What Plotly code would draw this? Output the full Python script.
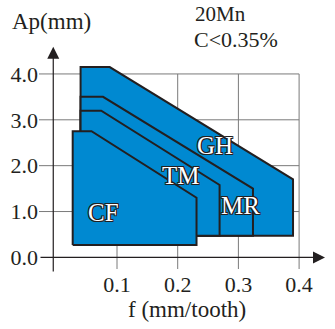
import plotly.graph_objects as go

# ---- data ----
regions = ["GH", "MR", "TM", "CF"]
region_x = {
    "GH": [0.040, 0.040, 0.088, 0.390, 0.390],
    "MR": [0.040, 0.040, 0.077, 0.324, 0.324],
    "TM": [0.040, 0.040, 0.074, 0.269, 0.269],
    "CF": [0.027, 0.027, 0.058, 0.231, 0.231],
}
region_y = {
    "GH": [0.47, 4.15, 4.15, 1.70, 0.47],
    "MR": [0.47, 3.50, 3.50, 1.50, 0.47],
    "TM": [0.47, 3.20, 3.20, 1.58, 0.47],
    "CF": [0.27, 2.75, 2.75, 1.30, 0.27],
}
label_pos = {
    "GH": (0.261, 2.44),
    "MR": (0.303, 1.14),
    "TM": (0.205, 1.78),
    "CF": (0.077, 0.97),
}
x_ticks = [0.1, 0.2, 0.3, 0.4]
x_ticktext = ["0.1", "0.2", "0.3", "0.4"]
y_ticks = [0, 1, 2, 3, 4]
y_ticktext = ["0.0", "1.0", "2.0", "3.0", "4.0"]

FILL = "rgb(0,137,209)"
EDGE = "#231f20"
GRID = "#7a7a7a"
FONT = "Liberation Serif"
X_RANGE = [-0.0285, 0.4509]
Y_RANGE = [-0.2529, 4.74]

W, H = 335, 329
ML, MR_, MT, MB = 39, 5, 40, 60


def paper_x(px):
    return (px - ML) / (W - ML - MR_)


def paper_y(py):
    return (H - MB - py) / (H - MT - MB)


fig = go.Figure()

# grid lines (data coordinates)
for yv in y_ticks[1:]:
    fig.add_shape(type="line", x0=X_RANGE[0], x1=0.4, y0=yv, y1=yv,
                  line=dict(color=GRID, width=1), layer="below")
for xv in x_ticks:
    fig.add_shape(type="line", x0=xv, x1=xv, y0=Y_RANGE[0], y1=4.0,
                  line=dict(color=GRID, width=1), layer="below")

for r in regions:
    fig.add_trace(go.Scatter(
        x=region_x[r] + [region_x[r][0]], y=region_y[r] + [region_y[r][0]],
        mode="lines", fill="toself", fillcolor=FILL,
        line=dict(color=EDGE, width=2), hoverinfo="skip", showlegend=False))

outline = ", ".join(f"{dx}px {dy}px 0 {EDGE}" for dx, dy in
                    [(1, 0), (-1, 0), (0, 1), (0, -1), (1, 1), (-1, -1), (1, -1), (-1, 1)])
for r in regions:
    x, y = label_pos[r]
    fig.add_annotation(x=x, y=y, text=r, showarrow=False,
                       font=dict(family=FONT, size=25, color="white", shadow=outline))

# axes lines with arrows
fig.add_annotation(x=-0.005, y=4.593, ax=-0.005, ay=-0.34, axref="x", ayref="y",
                   xref="x", yref="y", text="", showarrow=True, arrowhead=2,
                   arrowsize=2, arrowwidth=1.2, arrowcolor=EDGE, standoff=0)
fig.add_annotation(x=0.4427, y=0, ax=X_RANGE[0], ay=0, axref="x", ayref="y",
                   xref="x", yref="y", text="", showarrow=True, arrowhead=2,
                   arrowsize=2, arrowwidth=1.2, arrowcolor=EDGE, standoff=0)

# texts (paper coordinates, outside the plot area)
txt_font = dict(family=FONT, size=23, color="#231f20")
fig.add_annotation(xref="paper", yref="paper", x=paper_x(10), y=paper_y(21.5),
                   text="Ap(mm)", showarrow=False, xanchor="left", yanchor="middle",
                   font=txt_font)
fig.add_annotation(xref="paper", yref="paper", x=paper_x(193), y=paper_y(0),
                   text="20Mn", showarrow=False, xanchor="left", yanchor="top",
                   font=dict(family=FONT, size=21, color="#231f20"))
fig.add_annotation(xref="paper", yref="paper", x=paper_x(192), y=paper_y(39),
                   text="C&lt;0.35%", showarrow=False, xanchor="left", yanchor="middle",
                   font=dict(family=FONT, size=22, color="#231f20"))
fig.add_annotation(xref="paper", yref="paper", x=paper_x(186.5), y=paper_y(309),
                   text="f (mm/tooth)", showarrow=False, xanchor="center", yanchor="middle",
                   font=dict(family=FONT, size=23, color="#231f20"))

fig.update_xaxes(range=X_RANGE, tickvals=x_ticks, ticktext=x_ticktext,
                 showgrid=False, zeroline=False, showline=False, ticks="",
                 automargin=False,
                 tickfont=dict(family=FONT, size=22, color="#231f20"), fixedrange=True)
fig.update_yaxes(range=Y_RANGE, tickvals=y_ticks, ticktext=y_ticktext,
                 showgrid=False, zeroline=False, showline=False, ticks="",
                 automargin=False,
                 tickfont=dict(family=FONT, size=22, color="#231f20"), fixedrange=True)

fig.update_layout(width=W, height=H, margin=dict(l=ML, r=MR_, t=MT, b=MB, pad=0),
                  plot_bgcolor="white", paper_bgcolor="white", showlegend=False)

fig.write_html("out.html", config={"displayModeBar": False},
               post_script="document.body.style.margin='0';")
